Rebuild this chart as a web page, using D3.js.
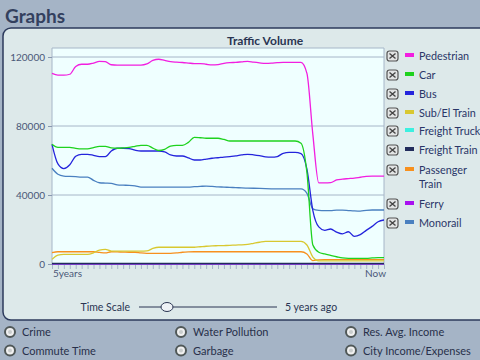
<!DOCTYPE html>
<html><head><meta charset="utf-8">
<script src="https://cdn.jsdelivr.net/npm/d3@7"></script>
<style>
html,body{margin:0;padding:0;background:#a5b4c6;overflow:hidden;}
svg{display:block;}
</style></head>
<body>
<script>
const seriesNames = ["Pedestrian","Car","Bus","Sub/El Train","Freight Truck","Freight Train","Passenger Train","Ferry","Monorail"];
const seriesColors = ["#f21ee0","#1ed21e","#2424dc","#d8c830","#3cf0e0","#222c5c","#f7901e","#a810f0","#4a80c0"];
const pedestrian = [110500,109500,109500,110000,114500,115800,115800,116500,117500,117300,
 115500,115300,115300,115300,115300,115300,116000,118000,118700,118000,
 117300,117000,116800,116500,116200,116200,115800,115400,115600,116300,
 116700,116900,117200,117500,117000,116600,116300,116400,116700,116900,
 116900,116900,116900,110500,75000,47000,47000,47200,48700,49200,
 49500,49800,50300,50800,51000,51000,51000];
const car = [69400,67600,67600,67600,67000,66700,66700,67500,68200,68200,
 67300,67100,67300,67600,68200,68800,68800,67200,65800,66500,
 68400,68800,68800,70500,73400,73200,72900,72900,72900,72200,
 71300,71300,71300,71300,71300,71300,71300,71300,71300,71300,
 71300,71300,70000,53000,11000,6800,5800,5000,4200,3500,
 3300,3300,3300,3300,3500,3700,3700];
const bus = [69400,58000,55300,57500,62500,63600,63600,63000,62200,62200,
 65500,67100,67100,66900,66000,65500,65500,65500,65500,65000,
 63200,62600,62600,61500,60300,60300,60800,61300,61600,62000,
 62200,62700,63200,63600,63300,62800,62100,61900,62300,64200,
 64700,64700,64000,55000,31000,21500,19500,20300,18500,17500,
 18700,16000,17000,19500,21800,24500,25500];
const subElTrain = [2700,5200,5600,5600,5600,5600,5600,6500,8100,8500,
 7500,7500,7500,7500,7500,7500,7600,9000,9700,9700,
 9700,9700,9700,9700,9700,10000,10300,10500,10600,10700,
 10800,11000,11100,11400,12000,12600,13100,13100,13100,13100,
 13100,13100,13100,11000,4000,1800,1800,1800,1800,1800,
 1800,1800,1800,1800,1800,1800,1800];
const freightTruck = [0,0,0,0,0,0,0,0,0,0, 0,0,0,0,0,0,0,0,0,0, 0,0,0,0,0,0,0,0,0,0,
 0,0,0,0,0,0,0,0,0,0, 0,0,0,0,0,0,0,0,0,0, 0,0,0,0,0,0,0];
const freightTrain = [300,300,300,300,300,300,300,300,300,300, 300,300,300,300,300,300,300,300,300,300,
 300,300,300,300,300,300,300,300,300,300, 300,300,300,300,300,300,300,300,300,300,
 300,300,300,300,300,300,300,300,300,300, 300,300,300,300,300,300,300];
const passengerTrain = [6600,7100,7100,7100,7100,7100,7100,7100,6700,6400,
 7100,7000,6900,6800,6800,6400,6200,6200,6200,6200,
 6200,6400,6800,7000,7100,7100,7100,7100,7100,7100,
 7100,7100,7100,7100,7100,7100,7100,7100,7100,7100,
 7100,7100,7100,5800,2000,2400,2500,2500,2500,2500,
 2500,2500,2500,2500,2500,2500,2500];
const ferry = [0,0,0,0,0,0,0,0,0,0, 0,0,0,0,0,0,0,0,0,0, 0,0,0,0,0,0,0,0,0,0,
 0,0,0,0,0,0,0,0,0,0, 0,0,0,0,0,0,0,0,0,0, 0,0,0,0,0,0,0];
const monorail = [55500,52000,51000,50800,50600,50400,50400,48500,47100,46900,
 46700,45900,45700,45600,45300,44600,44600,44600,44600,44600,
 44600,44600,44600,44600,44800,45000,45200,45000,44700,44600,
 44400,44300,44100,44000,43900,43800,43700,43600,43500,43500,
 43500,43500,43500,41000,32000,31100,30900,30900,31200,31200,
 31000,30800,30700,31100,31300,31300,31300];
const seriesValues = [pedestrian,car,bus,subElTrain,freightTruck,freightTrain,passengerTrain,ferry,monorail];
const yTicks = [0,40000,80000,120000];
const xLabels = ["5years","Now"];
const leftButtons = ["Crime","Commute Time"];
const midButtons = ["Water Pollution","Garbage"];
const rightButtons = ["Res. Avg. Income","City Income/Expenses"];

const W=480,H=360;
const FONT="Lato, 'Open Sans', sans-serif";
const svg=d3.select("body").append("svg").attr("width",W).attr("height",H);
svg.append("rect").attr("width",W).attr("height",H).attr("fill","#a5b4c6");

svg.append("text").attr("x",5).attr("y",23).text("Graphs")
 .attr("font-family",FONT).attr("font-weight","bold").attr("font-size",19).attr("fill","#33405e");

// panel
svg.append("rect").attr("x",3).attr("y",28).attr("width",490).attr("height",292).attr("rx",8)
 .attr("fill","#dde9ea").attr("stroke","#2c3a5c").attr("stroke-width",1.5);

svg.append("text").attr("x",265).attr("y",45).attr("text-anchor","middle").text("Traffic Volume")
 .attr("font-family",FONT).attr("font-weight","bold").attr("font-size",12).attr("fill","#2a3552");

const plotL=52,plotR=384,plotT=48,plotB=264;
const n=pedestrian.length;
const x=d3.scaleLinear().domain([0,n-1]).range([plotL,plotR]);
const y=d3.scaleLinear().domain([0,120000]).range([plotB,57]);

svg.append("rect").attr("x",plotL).attr("y",plotT).attr("width",plotR-plotL).attr("height",plotB-plotT)
 .attr("fill","#efffff");
svg.append("path").attr("d",`M${plotL},${plotB}V${plotT}H${plotR}V${plotB}`).attr("fill","none")
 .attr("stroke","#a6b6c8").attr("stroke-width",1);

const yAxis=svg.append("g").attr("transform",`translate(${plotL},0)`)
 .call(d3.axisLeft(y).tickValues(yTicks).tickSize(4).tickFormat(d3.format("d")));
yAxis.select(".domain").remove();
yAxis.selectAll("line").attr("stroke","#8898b0");
yAxis.selectAll("text").attr("font-family",FONT).attr("font-size",10).attr("fill","#4a5878");
svg.append("g").selectAll("line").data(yTicks).join("line")
 .attr("x1",plotL).attr("x2",plotR).attr("y1",d=>y(d)).attr("y2",d=>y(d))
 .attr("stroke","#a6b6c8").attr("stroke-width",1);

const xAxis=svg.append("g").attr("transform",`translate(0,${plotB})`)
 .call(d3.axisBottom(x).tickValues(d3.range(n)).tickSize(5).tickFormat(""));
xAxis.select(".domain").attr("stroke","#a6b6c8");
xAxis.selectAll("line").attr("stroke","#a6b6c8");
svg.append("text").attr("x",plotL+1).attr("y",277).text(xLabels[0])
 .attr("font-family",FONT).attr("font-size",10).attr("fill","#4a5878");
svg.append("text").attr("x",plotR+2).attr("y",277).attr("text-anchor","end").text(xLabels[1])
 .attr("font-family",FONT).attr("font-size",10).attr("fill","#4a5878");

const line=d3.line().x((d,i)=>x(i)).y(d=>y(d)).curve(d3.curveMonotoneX);
const order=[8,6,4,3,2,1,0,7,5];
svg.append("g").selectAll("path").data(order).join("path")
 .attr("d",k=>line(seriesValues[k])).attr("fill","none")
 .attr("stroke",k=>seriesColors[k]).attr("stroke-width",1.3);

// legend
const rowsY=[56,75,94,113,131,150,170,204,223];
const lg=svg.append("g");
seriesNames.forEach((name,k)=>{
  const cy=rowsY[k];
  const g=lg.append("g");
  g.append("rect").attr("x",387).attr("y",cy-5).attr("width",11).attr("height",10).attr("rx",2.5)
   .attr("fill","#e2e4e4").attr("stroke","#555").attr("stroke-width",1.2);
  g.append("path").attr("d",`M${389.5},${cy-2.5}L${395.5},${cy+2.5}M${395.5},${cy-2.5}L${389.5},${cy+2.5}`)
   .attr("stroke","#444").attr("stroke-width",1.4);
  g.append("rect").attr("x",405).attr("y",cy-3).attr("width",9).attr("height",4).attr("fill",seriesColors[k]);
  const t=g.append("text").attr("x",419).attr("y",cy+4).attr("font-family",FONT).attr("font-size",10.8).attr("fill","#2a3668");
  if(name==="Passenger Train"){
    t.append("tspan").attr("x",419).text("Passenger");
    t.append("tspan").attr("x",419).attr("dy",14).text("Train");
  } else t.text(name);
});

// time scale slider
svg.append("text").attr("x",130).attr("y",311).attr("text-anchor","end").text("Time Scale")
 .attr("font-family",FONT).attr("font-size",10.5).attr("fill","#2a3552");
svg.append("line").attr("x1",139).attr("x2",277).attr("y1",307).attr("y2",307).attr("stroke","#2a3552").attr("stroke-width",1);
svg.append("ellipse").attr("cx",167).attr("cy",307).attr("rx",6).attr("ry",4.5)
 .attr("fill","#eef2f6").attr("stroke","#2a3552").attr("stroke-width",1);
svg.append("text").attr("x",285).attr("y",311).text("5 years ago")
 .attr("font-family",FONT).attr("font-size",10.5).attr("fill","#2a3552");

// radio buttons
const cols=[[leftButtons,10],[midButtons,181],[rightButtons,351]];
cols.forEach(([labels,cx])=>{
  labels.forEach((lab,j)=>{
    const cy=332+j*18.5;
    svg.append("circle").attr("cx",cx).attr("cy",cy).attr("r",5).attr("fill","#f0f0f0").attr("stroke","#505858").attr("stroke-width",2);
    svg.append("circle").attr("cx",cx).attr("cy",cy).attr("r",2).attr("fill","#c8cccc");
    svg.append("text").attr("x",cx+12).attr("y",cy+4).text(lab)
     .attr("font-family",FONT).attr("font-size",11).attr("fill","#28304a");
  });
});
</script>
</body></html>
